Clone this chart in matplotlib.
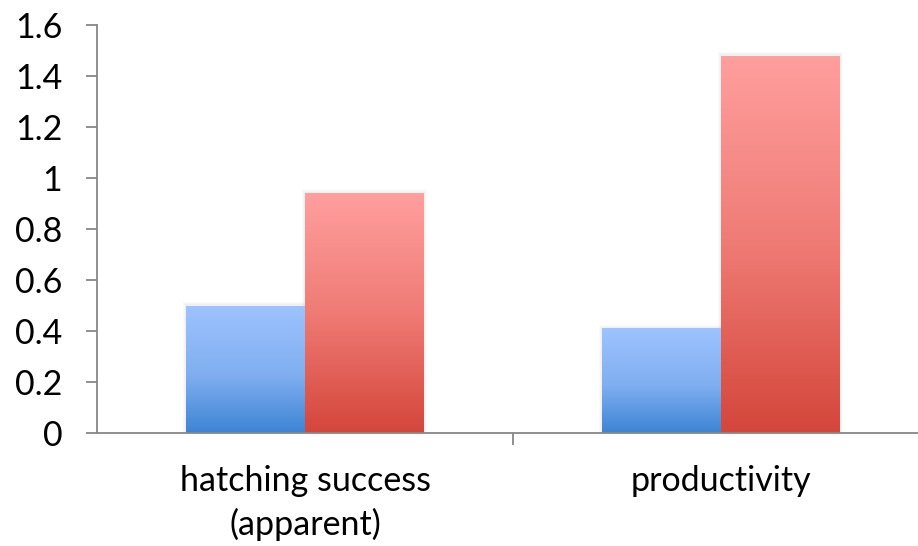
import matplotlib
matplotlib.use("Agg")
import matplotlib.pyplot as plt
import numpy as np
from matplotlib.colors import LinearSegmentedColormap

categories = ["hatching success\n(apparent)", "productivity"]
series_blue = [0.50, 0.41]
series_red = [0.94, 1.48]
yticks = [0, 0.2, 0.4, 0.6, 0.8, 1, 1.2, 1.4, 1.6]
ytick_labels = ["0", "0.2", "0.4", "0.6", "0.8", "1", "1.2", "1.4", "1.6"]

plt.rcParams['font.family'] = ['Lato', 'DejaVu Sans']

W, H = 918, 546
fig = plt.figure(figsize=(W / 100, H / 100), dpi=100)
ax = fig.add_axes([97 / W, (H - 433) / H, (929 - 97) / W, (433 - 25) / H])

blue_cmap = LinearSegmentedColormap.from_list("b", [(0, "#3d84d4"), (0.45, "#80aef0"), (1, "#9ec3ff")])
red_cmap = LinearSegmentedColormap.from_list("r", [(0, "#d4463b"), (0.5, "#ef7b75"), (1, "#ff9f9e")])

x = np.arange(len(categories))
bw = 0.286
grad = np.linspace(0, 1, 256).reshape(-1, 1)

def gbar(xpos, vals, cmap):
    bars = ax.bar(xpos, vals, width=bw, color="none", edgecolor="none", zorder=2)
    for b in bars:
        x0, y0 = b.get_x(), b.get_y()
        w, h = b.get_width(), b.get_height()
        # soft shadow
        for k in range(1, 4):
            dx = 0.0025 * k
            dy = 0.005 * k
            ax.add_patch(plt.Rectangle((x0 - dx, y0), w + 2 * dx, h + dy, facecolor="#000000",
                                       alpha=0.018, edgecolor="none", zorder=1.5))
        im = ax.imshow(grad, cmap=cmap, origin="lower", aspect="auto",
                       extent=[x0, x0 + w, y0, y0 + h], zorder=2)
        im.set_clip_path(b)

gbar(x - bw / 2, series_blue, blue_cmap)
gbar(x + bw / 2, series_red, red_cmap)

ax.set_xlim(-0.5, 1.5)
ax.set_ylim(0, 1.6)

for s in ["top", "right"]:
    ax.spines[s].set_visible(False)
for s in ["left", "bottom"]:
    ax.spines[s].set_color("#878787")
    ax.spines[s].set_linewidth(1.3)
    ax.spines[s].set_zorder(3)

ax.set_yticks(yticks)
ax.set_yticklabels(ytick_labels)
ax.tick_params(axis="y", direction="out", length=8, width=1.3, color="#878787",
               labelsize=24.5, pad=17, labelcolor="black")

ax.set_xticks(x)
ax.set_xticklabels(categories, linespacing=1.4)
ax.tick_params(axis="x", which="major", length=0, labelsize=24.5, pad=23, labelcolor="black")
ax.set_xticks([0.5], minor=True)
ax.tick_params(axis="x", which="minor", direction="out", length=8.5, width=1.3, color="#878787")

fig.savefig("out.png", dpi=100)
